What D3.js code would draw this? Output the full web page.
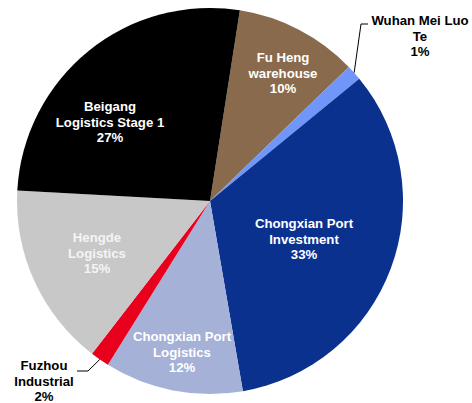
<!DOCTYPE html>
<html>
<head>
<meta charset="utf-8">
<script src="https://cdn.jsdelivr.net/npm/d3@7"></script>
<style>
  body { margin: 0; background: #fff; }
  svg { display: block; font-family: "Liberation Sans", Arial, sans-serif; font-weight: bold; }
</style>
</head>
<body>
<svg id="chart" width="472" height="403"></svg>
<script>
// slices, clockwise from the top
var labels = [
  ['Fu Heng', 'warehouse', '10%'],
  ['Wuhan Mei Luo', 'Te', '1%'],
  ['Chongxian Port', 'Investment', '33%'],
  ['Chongxian Port', 'Logistics', '12%'],
  ['Fuzhou', 'Industrial', '2%'],
  ['Hengde', 'Logistics', '15%'],
  ['Beigang', 'Logistics Stage 1', '27%']
];
var values = [10.3, 1.3, 33.2, 11.6, 1.6, 15.4, 26.6];
var colors = ['#8a6a4c', '#6f96f8', '#0b318f', '#a6b1d7', '#e8001c', '#c8c8c8', '#000000'];
var textColors = ['#fff', '#000', '#fff', '#fff', '#000', '#f4f4f4', '#fff'];

var cx = 210, cy = 201, r = 193;
var startAngle = 8.9 * Math.PI / 180;

var svg = d3.select('#chart');
var g = svg.append('g').attr('transform', 'translate(' + cx + ',' + cy + ')');

var pie = d3.pie().sort(null).startAngle(startAngle).endAngle(startAngle + 2 * Math.PI);
var arcs = pie(values);
var arc = d3.arc().innerRadius(0).outerRadius(r);

g.selectAll('path.slice')
  .data(arcs)
  .enter().append('path')
  .attr('class', 'slice')
  .attr('d', arc)
  .attr('fill', function(d, i){ return colors[i]; });

// label centres, relative to the pie centre
var labelPos = [
  [73, -128], [210, -165], [94, 38], [-28, 151], [-166, 180], [-113, 52], [-100, -79]
];

// leader lines for the two small slices
function leader(i, pts){
  var a = (arcs[i].startAngle + arcs[i].endAngle) / 2;
  var p0 = [r * Math.sin(a), -r * Math.cos(a)];
  g.append('path')
    .attr('d', d3.line()([p0].concat(pts)))
    .attr('fill', 'none')
    .attr('stroke', '#000')
    .attr('stroke-width', 1);
}
leader(1, [[151, -177], [158, -177]]);
leader(4, [[-122, 170], [-133, 170]]);

var lab = g.selectAll('text.lab')
  .data(labels)
  .enter().append('text')
  .attr('class', 'lab')
  .attr('text-anchor', 'middle')
  .attr('font-size', 13.2)
  .attr('fill', function(d, i){ return textColors[i]; })
  .attr('transform', function(d, i){ return 'translate(' + labelPos[i][0] + ',' + labelPos[i][1] + ')'; });

lab.selectAll('tspan')
  .data(function(d){ return d; })
  .enter().append('tspan')
  .attr('x', 0)
  .attr('y', function(d, j){ return (j - 1) * 15.3 + 4.7; })
  .text(function(d){ return d; });
</script>
</body>
</html>
